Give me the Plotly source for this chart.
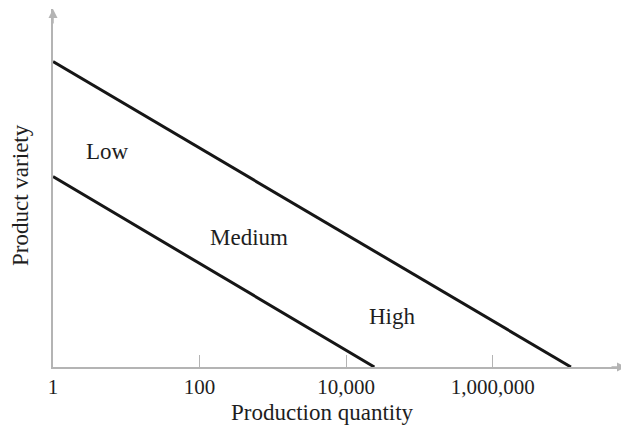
import math
import plotly.graph_objects as go

# Data
tick_values = [1, 100, 10000, 1000000]
tick_labels = ["1", "100", "10,000", "1,000,000"]

upper_quantity = [1, 11700000]
upper_variety = [8.53, 0]

lower_quantity = [1, 24300]
lower_variety = [5.32, 0]

region_names = ["Low", "Medium", "High"]
region_quantity = [5.6, 480, 43600]
region_variety = [6.03, 3.63, 1.40]

FONT = "Liberation Serif, Times New Roman, serif"
AXIS_COLOR = "#b4b4b4"
LINE_COLOR = "#161616"
TEXT_COLOR = "#1e1e1e"

fig = go.Figure()
for q, v in [(upper_quantity, upper_variety), (lower_quantity, lower_variety)]:
    fig.add_trace(go.Scatter(x=q, y=v, mode="lines",
                             line=dict(color=LINE_COLOR, width=3),
                             showlegend=False, hoverinfo="skip"))

annotations = []
for name, q, v in zip(region_names, region_quantity, region_variety):
    annotations.append(dict(x=math.log10(q), y=v, xref="x", yref="y", text=name,
                            showarrow=False, font=dict(family=FONT, size=23, color=TEXT_COLOR),
                            xanchor="center", yanchor="middle"))

# axis titles
annotations.append(dict(x=0.471, y=-0.126, xref="paper", yref="paper",
                        text="Production quantity", showarrow=False,
                        font=dict(family=FONT, size=23, color=TEXT_COLOR),
                        xanchor="center", yanchor="middle"))
annotations.append(dict(x=-0.058, y=0.48, xref="paper", yref="paper",
                        text="Product variety", showarrow=False, textangle=-90,
                        font=dict(family=FONT, size=23, color=TEXT_COLOR),
                        xanchor="center", yanchor="middle"))
# arrowheads
annotations.append(dict(x=1, y=0, xref="paper", yref="paper", ax=-16, ay=0,
                        text="", showarrow=True, arrowhead=2, arrowsize=1.2,
                        arrowwidth=1.5, arrowcolor=AXIS_COLOR))
annotations.append(dict(x=0, y=1, xref="paper", yref="paper", ax=0, ay=16,
                        text="", showarrow=True, arrowhead=2, arrowsize=1.2,
                        arrowwidth=1.5, arrowcolor=AXIS_COLOR))

# The page body adds an 8px offset, so the figure is sized 8px smaller.
fig.update_layout(
    width=621, height=417,
    margin=dict(l=45, r=3, t=1, b=58),
    paper_bgcolor="white", plot_bgcolor="white",
    annotations=annotations,
    xaxis=dict(type="log", range=[0, 7.82], showgrid=False, zeroline=False,
               showline=True, linecolor=AXIS_COLOR, linewidth=1.5,
               tickvals=tick_values, ticktext=tick_labels,
               ticks="inside", ticklen=12, tickcolor=AXIS_COLOR, tickwidth=1,
               tickfont=dict(family=FONT, size=21, color=TEXT_COLOR)),
    yaxis=dict(range=[0, 10], showgrid=False, zeroline=False,
               showline=True, linecolor=AXIS_COLOR, linewidth=1.5,
               showticklabels=False, ticks=""),
)

fig.write_html("out.html")
